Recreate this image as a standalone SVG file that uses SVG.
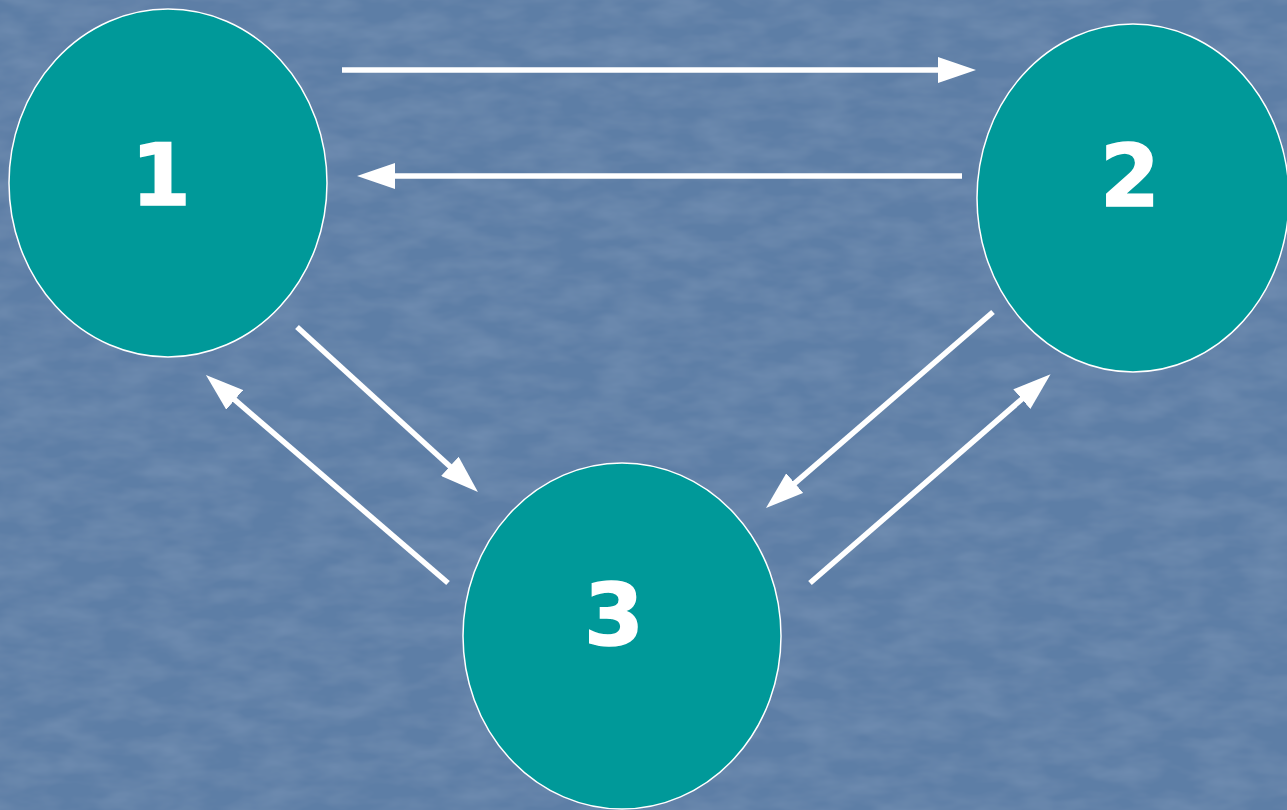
<svg xmlns="http://www.w3.org/2000/svg" width="1287" height="810" viewBox="0 0 1287 810">
<style>
.node{fill:#009999;stroke:#ffffff;stroke-width:1.5}
.lbl{font-family:"DejaVu Sans",Verdana,sans-serif;font-weight:bold;font-size:86px;fill:#ffffff;text-anchor:middle;stroke:#ffffff;stroke-width:1.5}
.edge{stroke:#ffffff;stroke-width:5.5;fill:none;marker-end:url(#ah)}
</style>
<defs>
<marker id="ah" markerUnits="userSpaceOnUse" markerWidth="38" markerHeight="26" viewBox="0 0 38 26" refX="1" refY="13" orient="auto">
<path d="M0,0 L38,13 L0,26 Z" fill="#ffffff"/>
</marker>
<filter id="tex" x="0" y="0" width="100%" height="100%">
<feTurbulence type="fractalNoise" baseFrequency="0.02 0.05" numOctaves="3" seed="7" result="n"/>
<feColorMatrix in="n" type="matrix" values="0 0 0 0 0.45  0 0 0 0 0.56  0 0 0 0 0.72  0 0 0 0.8 -0.25" result="c"/>
<feComposite in="c" in2="SourceGraphic" operator="over"/>
</filter>
</defs>
<rect width="1287" height="810" fill="#5d7ea6"/>
<rect width="1287" height="810" fill="#5d7ea6" filter="url(#tex)" opacity="0.35"/>
<g id="connectors">
<line class="edge" x1="342" y1="70" x2="939" y2="70"/>
<line class="edge" x1="962" y1="176" x2="394" y2="176"/>
<line class="edge" x1="297" y1="327" x2="450.6" y2="467"/>
<line class="edge" x1="448" y1="583" x2="234" y2="399.2"/>
<line class="edge" x1="993" y1="312" x2="794" y2="483.8"/>
<line class="edge" x1="810" y1="583" x2="1022.6" y2="398.5"/>
</g>
<g id="node1">
<ellipse class="node" cx="168" cy="183" rx="159" ry="174"/>
<text class="lbl" x="161" y="205">1</text>
</g>
<g id="node2">
<ellipse class="node" cx="1133" cy="198" rx="156" ry="174"/>
<text class="lbl" x="1130" y="206">2</text>
</g>
<g id="node3">
<ellipse class="node" cx="622" cy="636" rx="159" ry="173"/>
<text class="lbl" x="614" y="645">3</text>
</g>
</svg>
